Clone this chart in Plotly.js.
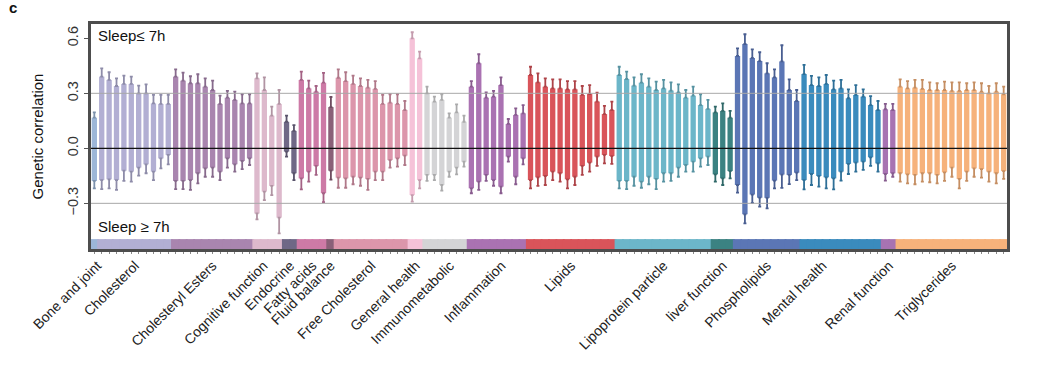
<!DOCTYPE html>
<html><head><meta charset="utf-8">
<script src="https://cdn.plot.ly/plotly-3.0.1.min.js"></script>
<style>html,body{margin:0;padding:0;background:#fff}#chart{width:1040px;height:369px}</style>
</head><body><div id="chart"></div>
<script>
const categories = ["Bone and joint","Cholesterol","Cholesteryl Esters","Cognitive function","Endocrine","Fatty acids","Fluid balance","Free Cholesterol","General health","Immunometabolic","Inflammation","Lipids","Lipoprotein particle","liver function","Phospholipids","Mental health","Renal function","Triglycerides"];
const counts = [1,10,11,4,2,4,1,10,2,6,8,12,13,3,9,11,2,15];
const colors = ["#9cb6d8","#b2afd3","#a985af","#ddb9cc","#6f6886","#cd7aa6","#8a6078","#dc96ab","#f5c2d8","#d4d4d6","#aa72b2","#d9545a","#6cb6c9","#3b8282","#5b76b5","#3a8bbd","#a873b2","#f6b27b"];

// bar top / bottom and whisker ends, in category order
const barTop = [
 .167,
 .391,.373,.340,.351,.351,.300,.300,.245,.242,.242,
 .391,.369,.355,.355,.336,.318,.242,.276,.264,.245,.245,
 .382,.318,.178,.242,
 .145,.095,
 .373,.327,.309,.358,
 .225,
 .385,.367,.351,.340,.331,.324,.242,.249,.242,.209,
 .600,.491,
 .300,.255,.264,.167,.196,.145,
 .336,.464,.276,.282,.345,.133,.182,.191,
 .400,.360,.336,.327,.327,.322,.322,.291,.296,.255,.187,.209,
 .400,.378,.342,.358,.336,.318,.327,.315,.305,.276,.287,.236,.215,
 .196,.204,.167,
 .504,.569,.493,.476,.409,.387,.474,.318,.258,
 .405,.345,.340,.351,.322,.327,.273,.291,.282,.236,.209,
 .213,.209,
 .336,.327,.331,.324,.318,.318,.318,.313,.313,.318,.318,.309,.300,.309,.295
];
const barBottom = [
 -.178,
 -.173,-.169,-.173,-.122,-.127,-.105,-.087,-.127,-.055,-.036,
 -.178,-.178,-.173,-.136,-.109,-.105,-.127,-.055,-.087,-.069,-.055,
 -.355,-.236,-.205,-.378,
 -.018,-.136,
 -.164,-.127,-.096,-.245,
 -.122,
 -.160,-.164,-.155,-.160,-.167,-.127,-.127,-.064,-.055,-.040,
 -.255,-.173,
 -.145,-.145,-.200,-.127,-.105,-.073,
 -.218,-.182,-.145,-.173,-.209,-.045,-.155,-.055,
 -.173,-.158,-.151,-.127,-.136,-.169,-.155,-.096,-.078,-.045,-.036,-.042,
 -.178,-.178,-.155,-.182,-.155,-.167,-.136,-.136,-.105,-.091,-.073,-.055,-.045,
 -.142,-.164,-.124,
 -.200,-.360,-.252,-.269,-.270,-.176,-.143,-.145,-.133,
 -.173,-.140,-.151,-.158,-.164,-.127,-.085,-.078,-.073,-.049,-.082,
 -.140,-.136,
 -.136,-.142,-.145,-.136,-.136,-.145,-.131,-.105,-.167,-.127,-.109,-.113,-.127,-.136,-.124
];
const ciUpper = [
 .196,
 .436,.415,.382,.396,.391,.342,.349,.291,.291,.291,
 .431,.413,.393,.404,.382,.369,.287,.313,.309,.295,.295,
 .409,.387,.227,.318,
 .178,.127,
 .418,.369,.340,.411,
 .280,
 .431,.415,.396,.382,.373,.367,.291,.295,.295,.258,
 .633,.527,
 .336,.282,.295,.191,.240,.178,
 .367,.513,.305,.313,.387,.160,.218,.236,
 .445,.409,.382,.376,.376,.367,.367,.340,.345,.304,.231,.255,
 .445,.418,.387,.404,.382,.364,.373,.360,.349,.318,.336,.295,.264,
 .227,.245,.204,
 .545,.622,.540,.524,.464,.431,.562,.376,.318,
 .455,.395,.387,.400,.369,.373,.322,.345,.322,.285,.258,
 .242,.242,
 .376,.367,.373,.373,.360,.355,.364,.360,.360,.355,.360,.355,.340,.355,.336
];
const ciLower = [
 -.218,
 -.222,-.218,-.227,-.178,-.182,-.149,-.136,-.173,-.109,-.087,
 -.222,-.222,-.227,-.191,-.155,-.155,-.173,-.105,-.127,-.113,-.091,
 -.387,-.282,-.255,-.464,
 -.045,-.173,
 -.224,-.182,-.145,-.293,
 -.171,
 -.215,-.215,-.196,-.204,-.227,-.173,-.173,-.105,-.100,-.091,
 -.291,-.218,
 -.178,-.173,-.231,-.155,-.142,-.100,
 -.245,-.227,-.178,-.204,-.245,-.073,-.196,-.087,
 -.218,-.205,-.200,-.173,-.182,-.218,-.200,-.145,-.127,-.096,-.082,-.085,
 -.218,-.222,-.204,-.215,-.196,-.222,-.182,-.178,-.155,-.127,-.127,-.100,-.091,
 -.182,-.200,-.164,
 -.242,-.409,-.298,-.318,-.327,-.218,-.216,-.195,-.173,
 -.224,-.200,-.209,-.218,-.224,-.176,-.140,-.127,-.118,-.096,-.127,
 -.176,-.155,
 -.182,-.191,-.196,-.182,-.185,-.191,-.178,-.155,-.218,-.178,-.155,-.160,-.182,-.191,-.167
];
const yTickVals = [-0.3, 0, 0.3, 0.6];
const yTickText = ["\u22120.3", "0.0", "0.3", "0.6"];

// ---- build ----
const n = barTop.length;
const idx = Array.from({length:n}, (_, i) => i);
const catOf = [];
counts.forEach((c, k) => { for (let i = 0; i < c; i++) catOf.push(k); });
const barColors = catOf.map(k => colors[k]);
// label placement nudges (in bar units), styling only
const labelNudge = {"Bone and joint": 0.4, "Cognitive function": -0.6, "Mental health": -2.5, "Immunometabolic": 0.6, "Inflammation": 0.6};
const centers = [];
{ let s = 0; counts.forEach((c, k) => { centers.push(s + (c - 1) / 2 + (labelNudge[categories[k]] || 0)); s += c; }); }

function shade(hex, f) {
  const r = parseInt(hex.slice(1,3),16), g = parseInt(hex.slice(3,5),16), b = parseInt(hex.slice(5,7),16);
  return `rgb(${Math.round(r*f)},${Math.round(g*f)},${Math.round(b*f)})`;
}

const yMin = -0.549, yMax = 0.678, stripTop = -0.495;
const traces = [];
traces.push({
  type: 'bar', x: idx, base: barBottom, y: barTop.map((t, i) => t - barBottom[i]),
  width: 0.72, marker: {color: barColors, line: {width: 0}}, hoverinfo: 'skip'
});
traces.push({
  type: 'bar', x: idx, base: idx.map(() => yMin - 0.02), y: idx.map(() => stripTop - yMin + 0.02),
  width: 1.25, marker: {color: barColors, line: {width: 0}}, hoverinfo: 'skip'
});
let start = 0;
counts.forEach((c, k) => {
  const xs = idx.slice(start, start + c);
  const col = shade(colors[k], 0.8);
  const tops = barTop.slice(start, start + c), bots = barBottom.slice(start, start + c);
  const ups = ciUpper.slice(start, start + c), los = ciLower.slice(start, start + c);
  traces.push({type: 'scatter', mode: 'markers', x: xs, y: tops, marker: {size: 2, opacity: 0}, hoverinfo: 'skip',
    error_y: {type: 'data', symmetric: false, array: ups.map((u, j) => u - tops[j]), arrayminus: xs.map(() => 0), color: col, thickness: 1.8, width: 1.5}});
  traces.push({type: 'scatter', mode: 'markers', x: xs, y: bots, marker: {size: 2, opacity: 0}, hoverinfo: 'skip',
    error_y: {type: 'data', symmetric: false, array: xs.map(() => 0), arrayminus: los.map((l, j) => bots[j] - l), color: col, thickness: 1.8, width: 1.5}});
  start += c;
});

const layout = {
  width: 1040, height: 369,
  margin: {l: 91, r: 33, t: 24, b: 120},
  paper_bgcolor: '#fff', plot_bgcolor: '#fff',
  showlegend: false, barmode: 'overlay', hovermode: false,
  font: {family: 'Arial, "Liberation Sans", sans-serif', color: '#222'},
  xaxis: {
    range: [-0.45, n - 0.55], tickmode: 'array', tickvals: centers, ticktext: categories,
    tickangle: -45, ticks: '', tickfont: {size: 14, color: '#222'},
    showgrid: false, zeroline: false, showline: true, linecolor: '#4d4d4d', linewidth: 3, mirror: true,
    minor: {tickmode: 'array', tickvals: idx, ticks: 'outside', ticklen: 2, tickcolor: '#888', tickwidth: 1, showgrid: false}
  },
  yaxis: {
    range: [yMin, yMax], tickmode: 'array', tickvals: yTickVals, ticktext: yTickText, tickangle: -90,
    ticks: 'outside', ticklen: 4, tickcolor: '#555', tickfont: {size: 14.5, color: '#333'},
    showgrid: false, zeroline: false, showline: true, linecolor: '#4d4d4d', linewidth: 3, mirror: true,
    title: {text: 'Genetic correlation', font: {size: 15, color: '#111'}, standoff: 18}
  },
  shapes: [
    {type: 'line', xref: 'paper', x0: 0, x1: 1, yref: 'y', y0: 0.3, y1: 0.3, line: {color: '#a8a8a8', width: 1}, layer: 'above'},
    {type: 'line', xref: 'paper', x0: 0, x1: 1, yref: 'y', y0: -0.3, y1: -0.3, line: {color: '#a8a8a8', width: 1}, layer: 'above'},
    {type: 'line', xref: 'paper', x0: 0, x1: 1, yref: 'y', y0: 0, y1: 0, line: {color: '#111', width: 1.2}, layer: 'above'}
  ],
  annotations: [
    {text: 'Sleep\u2264 7h', xref: 'paper', yref: 'paper', x: 0.006, y: 0.951, xanchor: 'left', yanchor: 'middle', showarrow: false, font: {size: 15, color: '#111'}},
    {text: 'Sleep \u2265 7h', xref: 'paper', yref: 'paper', x: 0.006, y: 0.102, xanchor: 'left', yanchor: 'middle', showarrow: false, font: {size: 15, color: '#111'}},
    {text: '<b>c</b>', xref: 'paper', yref: 'paper', x: -0.085, y: 1.075, xanchor: 'center', yanchor: 'middle', showarrow: false, font: {size: 15, color: '#111'}}
  ]
};
Plotly.newPlot('chart', traces, layout, {displayModeBar: false, staticPlot: true});
</script>
</body></html>
